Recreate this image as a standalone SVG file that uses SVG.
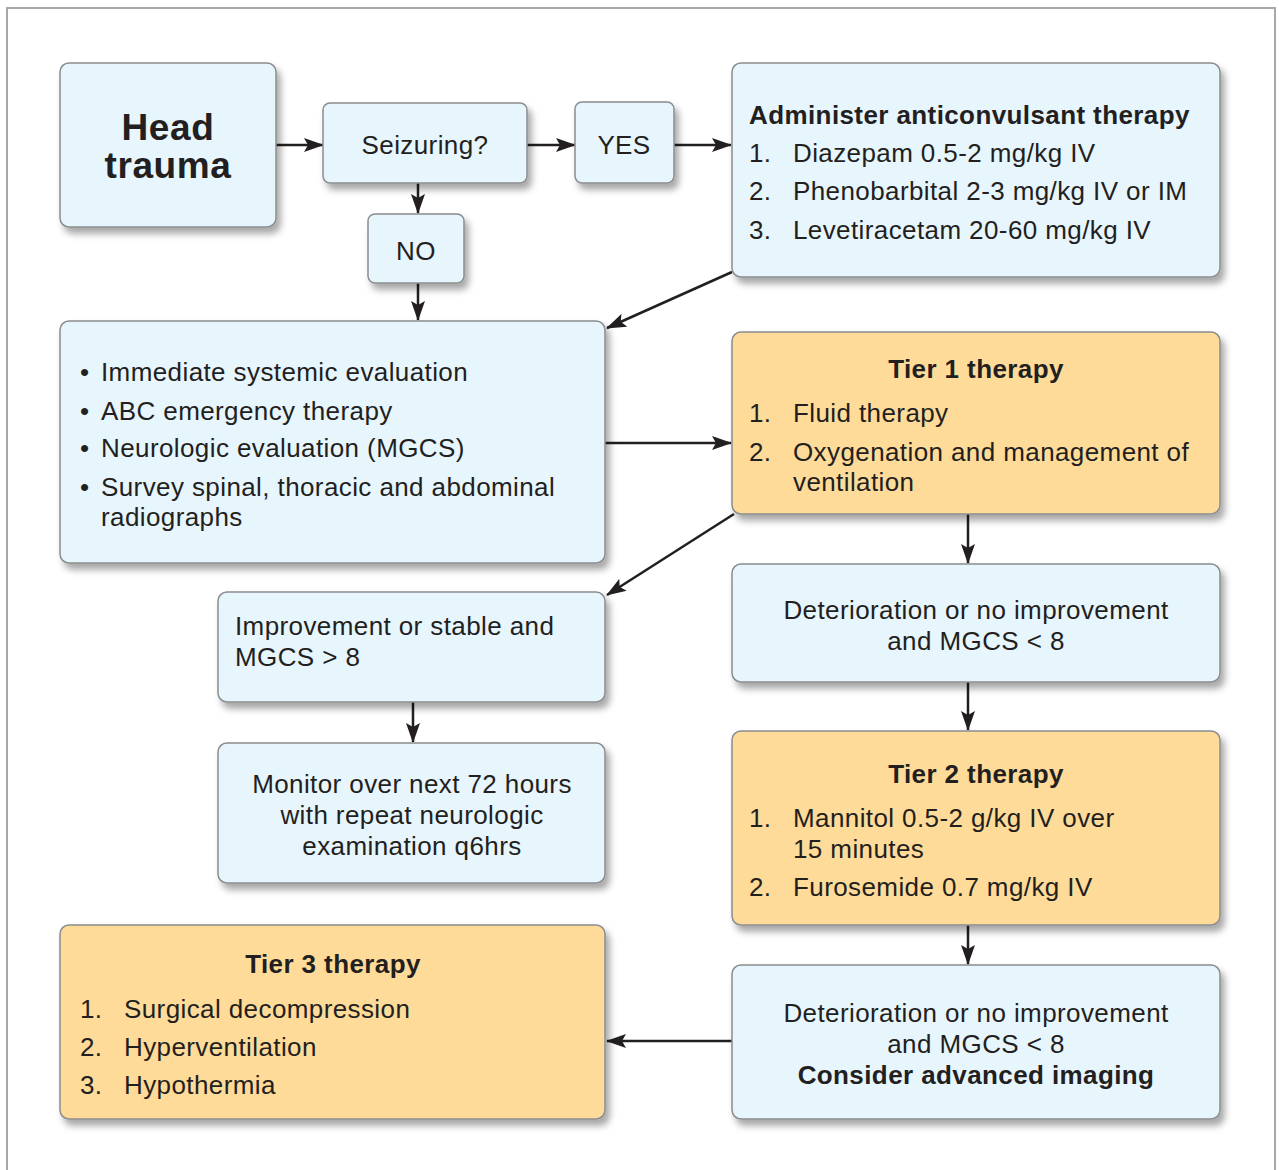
<svg xmlns="http://www.w3.org/2000/svg" width="1279" height="1170" viewBox="0 0 1279 1170">
<defs>
<filter id="sh" x="-10%" y="-10%" width="130%" height="140%">
<feDropShadow dx="4" dy="6" stdDeviation="3.5" flood-color="#000" flood-opacity="0.35"/>
</filter>
<marker id="ah" viewBox="0 0 20 14" refX="19" refY="7" markerWidth="20" markerHeight="14" markerUnits="userSpaceOnUse" orient="auto">
<path d="M0,0 L20,7 L0,14 L4,7 Z" fill="#231f20"/>
</marker>
<style>
.b{fill:#e7f5fd;stroke:#8a8c8e;stroke-width:1.5;filter:url(#sh)}
.o{fill:#fedb98;stroke:#8a8c8e;stroke-width:1.5;filter:url(#sh)}
text{font-family:"Liberation Sans",Arial,sans-serif;font-size:26px;letter-spacing:0.4px;fill:#231f20}
.c{text-anchor:middle}
.bd{font-weight:bold}
.h{font-size:37px;letter-spacing:0.6px}
.cn line{stroke:#231f20;stroke-width:2.5;marker-end:url(#ah)}
</style>
</defs>
<rect x="0" y="0" width="1279" height="1170" fill="#fff"/>
<rect x="7" y="8" width="1268" height="1175" fill="none" stroke="#a7a9ac" stroke-width="2"/>

<g id="connectors" class="cn">
<line x1="276" y1="145" x2="323" y2="145"/>
<line x1="527" y1="145" x2="575" y2="145"/>
<line x1="674" y1="145" x2="731" y2="145"/>
<line x1="418" y1="183" x2="418" y2="213"/>
<line x1="418" y1="283" x2="418" y2="320"/>
<line x1="732" y1="272" x2="607" y2="328"/>
<line x1="605" y1="443" x2="731" y2="443"/>
<line x1="734" y1="514" x2="607" y2="595"/>
<line x1="968" y1="514" x2="968" y2="563"/>
<line x1="413" y1="702" x2="413" y2="742"/>
<line x1="968" y1="682" x2="968" y2="730"/>
<line x1="968" y1="925" x2="968" y2="964"/>
<line x1="732" y1="1041" x2="607" y2="1041"/>
</g>

<g id="head">
<rect class="b" x="60" y="63" width="216" height="164" rx="9"/>
<text class="c bd h" x="168" y="140">Head</text>
<text class="c bd h" x="168" y="178">trauma</text>
</g>
<g id="seizuring">
<rect class="b" x="323" y="103" width="204" height="80" rx="7"/>
<text class="c" x="425" y="154">Seizuring?</text>
</g>
<g id="yes">
<rect class="b" x="575" y="102" width="99" height="81" rx="7"/>
<text class="c" x="624" y="154">YES</text>
</g>
<g id="no">
<rect class="b" x="368" y="214" width="96" height="69" rx="7"/>
<text class="c" x="416" y="260">NO</text>
</g>
<g id="anticonvulsant">
<rect class="b" x="732" y="63" width="488" height="214" rx="9"/>
<text class="bd" x="749" y="124">Administer anticonvulsant therapy</text>
<text x="749" y="162">1.</text><text x="793" y="162">Diazepam 0.5-2 mg/kg IV</text>
<text x="749" y="200">2.</text><text x="793" y="200">Phenobarbital 2-3 mg/kg IV or IM</text>
<text x="749" y="239">3.</text><text x="793" y="239">Levetiracetam 20-60 mg/kg IV</text>
</g>
<g id="evaluation">
<rect class="b" x="60" y="321" width="545" height="242" rx="9"/>
<text x="80" y="381">•</text><text x="101" y="381">Immediate systemic evaluation</text>
<text x="80" y="420">•</text><text x="101" y="420">ABC emergency therapy</text>
<text x="80" y="457">•</text><text x="101" y="457">Neurologic evaluation (MGCS)</text>
<text x="80" y="496">•</text><text x="101" y="496">Survey spinal, thoracic and abdominal</text>
<text x="101" y="526">radiographs</text>
</g>
<g id="tier1">
<rect class="o" x="732" y="332" width="488" height="182" rx="9"/>
<text class="c bd" x="976" y="378">Tier 1 therapy</text>
<text x="749" y="422">1.</text><text x="793" y="422">Fluid therapy</text>
<text x="749" y="461">2.</text><text x="793" y="461">Oxygenation and management of</text>
<text x="793" y="491">ventilation</text>
</g>
<g id="improvement">
<rect class="b" x="218" y="592" width="387" height="110" rx="9"/>
<text x="235" y="635">Improvement or stable and</text>
<text x="235" y="666">MGCS &gt; 8</text>
</g>
<g id="deterioration1">
<rect class="b" x="732" y="564" width="488" height="118" rx="9"/>
<text class="c" x="976" y="619">Deterioration or no improvement</text>
<text class="c" x="976" y="650">and MGCS &lt; 8</text>
</g>
<g id="monitor">
<rect class="b" x="218" y="743" width="387" height="140" rx="9"/>
<text class="c" x="412" y="793">Monitor over next 72 hours</text>
<text class="c" x="412" y="824">with repeat neurologic</text>
<text class="c" x="412" y="855">examination q6hrs</text>
</g>
<g id="tier2">
<rect class="o" x="732" y="731" width="488" height="194" rx="9"/>
<text class="c bd" x="976" y="783">Tier 2 therapy</text>
<text x="749" y="827">1.</text><text x="793" y="827">Mannitol 0.5-2 g/kg IV over</text>
<text x="793" y="858">15 minutes</text>
<text x="749" y="896">2.</text><text x="793" y="896">Furosemide 0.7 mg/kg IV</text>
</g>
<g id="tier3">
<rect class="o" x="60" y="925" width="545" height="194" rx="9"/>
<text class="c bd" x="333" y="973">Tier 3 therapy</text>
<text x="80" y="1018">1.</text><text x="124" y="1018">Surgical decompression</text>
<text x="80" y="1056">2.</text><text x="124" y="1056">Hyperventilation</text>
<text x="80" y="1094">3.</text><text x="124" y="1094">Hypothermia</text>
</g>
<g id="deterioration2">
<rect class="b" x="732" y="965" width="488" height="154" rx="9"/>
<text class="c" x="976" y="1022">Deterioration or no improvement</text>
<text class="c" x="976" y="1053">and MGCS &lt; 8</text>
<text class="c bd" x="976" y="1084">Consider advanced imaging</text>
</g>
</svg>
